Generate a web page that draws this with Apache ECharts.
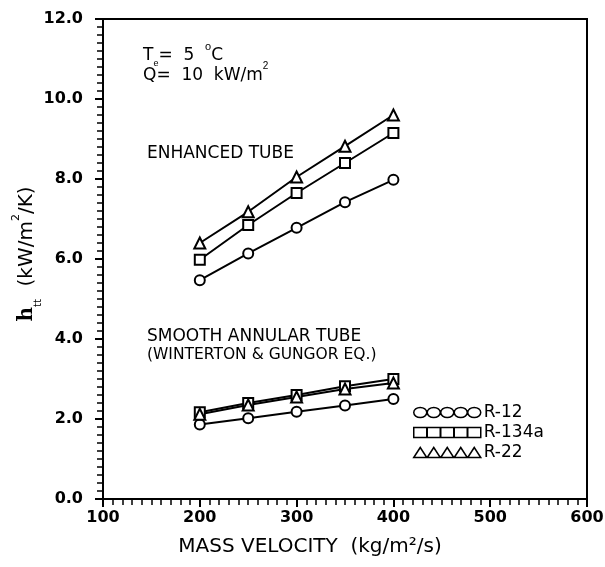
<!DOCTYPE html>
<html>
<head>
<meta charset="utf-8">
<script src="https://cdn.jsdelivr.net/npm/echarts@6/dist/echarts.min.js"></script>
<style>html,body{margin:0;padding:0;background:#fff}#c{width:605px;height:567px}</style>
</head>
<body>
<div id="c"></div>
<script>
const massVelocity = [200, 250, 300, 350, 400];
const enhR12   = [5.47, 6.14, 6.78, 7.42, 7.98];
const enhR134a = [5.98, 6.85, 7.65, 8.40, 9.15];
const enhR22   = [6.40, 7.18, 8.05, 8.82, 9.60];
const smR12    = [1.86, 2.02, 2.18, 2.34, 2.50];
const smR134a  = [2.17, 2.40, 2.60, 2.82, 3.00];
const smR22    = [2.12, 2.35, 2.55, 2.75, 2.90];
const refrigerants = ['R-12', 'R-134a', 'R-22'];

const FONT = 'DejaVu Sans';
function pairs(ys){ return massVelocity.map((x,i)=>[x, ys[i]]); }
function mk(name, sym, ys){
  return {
    name: name, type: 'line', data: pairs(ys),
    symbol: sym, symbolSize: sym==='triangle'?11:10,
    lineStyle: {color:'#000', width:2},
    itemStyle: {color:'#fff', borderColor:'#000', borderWidth:2},
    z: 3
  };
}
// legend icon paths: 5 overlapping shapes
function circles(){ let p=''; for(let i=0;i<5;i++){const cx=6.5+i*13.5; p+=`M${cx-6.5} 5 A6.5 5 0 1 0 ${cx+6.5} 5 A6.5 5 0 1 0 ${cx-6.5} 5 Z `;} return 'path://'+p; }
function rects(){ let p=''; for(let i=0;i<5;i++){const x=i*13.5; p+=`M${x} 0 L${x+13} 0 L${x+13} 10 L${x} 10 Z `;} return 'path://'+p; }
function tris(){ let p=''; for(let i=0;i<5;i++){const x=i*13.5; p+=`M${x} 10 L${x+6.5} 0 L${x+13} 10 Z `;} return 'path://'+p; }
const icons = [circles(), rects(), tris()];

const chart = echarts.init(document.getElementById('c'));
chart.setOption({
  animation: false,
  backgroundColor: '#fff',
  grid: {left:103, right:18, top:19, bottom:68, outerBoundsMode:'none', containLabel:false,
         show:true, borderColor:'#000', borderWidth:2, backgroundColor:'transparent'},
  xAxis: {
    type:'value', min:100, max:600, interval:100,
    name:'MASS VELOCITY  (kg/m²/s)', nameLocation:'middle', nameGap:38, nameMoveOverlap:false,
    nameTextStyle:{fontFamily:FONT, fontSize:20, color:'#000', padding:[0,70,0,0]},
    axisLine:{lineStyle:{color:'#000', width:2}},
    axisTick:{show:true, length:8, lineStyle:{color:'#000', width:2}},
    minorTick:{show:true, splitNumber:10, length:6, lineStyle:{color:'#000', width:1.5}},
    axisLabel:{fontFamily:FONT, fontSize:16, color:'#000', fontWeight:'bold', margin:11},
    splitLine:{show:false}
  },
  yAxis: {
    type:'value', min:0, max:12, interval:2,
    name:'{h|h}{sub|tt}  (kW/m{sup|2}/K)', nameLocation:'middle', nameGap:66, nameRotate:90, nameMoveOverlap:false,
    nameTextStyle:{fontFamily:FONT, fontSize:20, color:'#000', padding:[0,0,0,10],
      rich:{h:{fontFamily:'DejaVu Serif', fontSize:20, fontWeight:'bold', color:'#000'},
            sub:{fontSize:10, color:'#000', verticalAlign:'bottom', padding:[0,0,-6,0]},
            sup:{fontSize:11, color:'#000', verticalAlign:'top', padding:[-6,0,0,0]}}},
    axisLine:{lineStyle:{color:'#000', width:2}},
    axisTick:{show:true, length:8, lineStyle:{color:'#000', width:2}},
    minorTick:{show:true, splitNumber:10, length:6, lineStyle:{color:'#000', width:1.5}},
    axisLabel:{fontFamily:FONT, fontSize:16, color:'#000', fontWeight:'bold', margin:20, formatter:v=>v.toFixed(1)},
    splitLine:{show:false}
  },
  legend: {
    orient:'vertical', left:408, top:399, itemGap:3, itemWidth:67, itemHeight:10,
    textStyle:{fontFamily:FONT, fontSize:17, color:'#000', padding:[0,0,0,-2]},
    data: refrigerants.map((n,i)=>({name:n, icon:icons[i], itemStyle:{color:'transparent', borderColor:'#000', borderWidth:1.5}}))
  },
  graphic: [
    {type:'text', left:143, top:41, style:{text:'T{sub|e}=  5  {sup|o}C', font:`17px "${FONT}"`, fill:'#000',
      rich:{sub:{fontSize:9, verticalAlign:'bottom', padding:[0,0,-4,0]}, sup:{fontSize:11, verticalAlign:'top', padding:[-6,0,0,0]}}}},
    {type:'text', left:143, top:61, style:{text:'Q=  10  kW/m{sup|2}', font:`17px "${FONT}"`, fill:'#000',
      rich:{sup:{fontSize:10, verticalAlign:'top', padding:[-6,0,0,0]}}}},
    {type:'text', left:147, top:145, style:{text:'ENHANCED TUBE', font:`17px "${FONT}"`, fill:'#000'}},
    {type:'text', left:147, top:328, style:{text:'SMOOTH ANNULAR TUBE', font:`17px "${FONT}"`, fill:'#000'}},
    {type:'text', left:147, top:347, style:{text:'(WINTERTON & GUNGOR EQ.)', font:`15.5px "${FONT}"`, fill:'#000'}}
  ],
  series: [
    mk('R-12', 'circle', enhR12),
    mk('R-134a', 'rect', enhR134a),
    mk('R-22', 'triangle', enhR22),
    mk('R-12', 'circle', smR12),
    mk('R-134a', 'rect', smR134a),
    mk('R-22', 'triangle', smR22)
  ]
});
</script>
</body>
</html>
